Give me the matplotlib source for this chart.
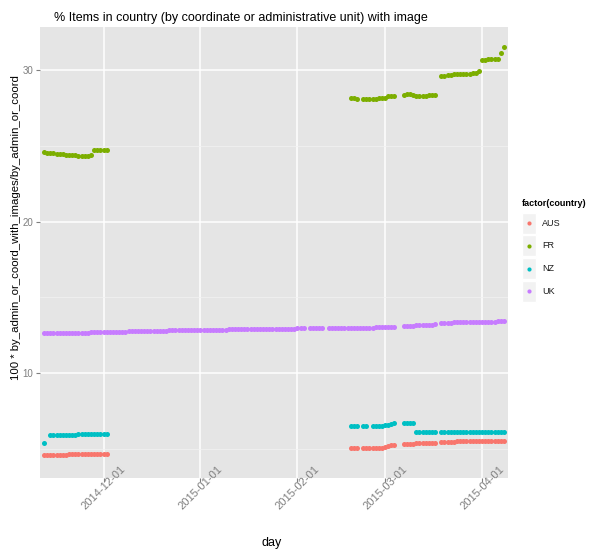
import numpy as np
import pandas as pd
import matplotlib
matplotlib.use("Agg")
import matplotlib.pyplot as plt
import matplotlib.dates as mdates
from matplotlib.patches import Rectangle

plt.rcParams['font.family'] = ['Liberation Sans', 'DejaVu Sans']

nan = np.nan

# --- data ------------------------------------------------------------------
countries = ["AUS", "FR", "NZ", "UK"]
colors = {"AUS": "#F8766D", "FR": "#7CAE00", "NZ": "#00BFC4", "UK": "#C77CFF"}

# block 1 : daily from 2014-11-12
block1_start = "2014-11-12"
aus_1 = [4.62, 4.62, 4.63, 4.63, 4.63, 4.64, 4.64, 4.64, 4.65, 4.65, 4.65,
         4.66, 4.66, 4.66, 4.67, 4.67, 4.68, 4.68, 4.69, 4.70, 4.71]
fr_1 = [24.60, 24.55, 24.50, 24.50, 24.48, 24.45, 24.45, 24.42, 24.40, 24.38, 24.38,
        24.35, 24.33, 24.32, 24.30, 24.42, 24.72, 24.73, 24.73, 24.74, 24.74]
nz_1 = [5.43, nan, 5.93, 5.94, 5.94, 5.95, 5.95, 5.95, 5.96, 5.96, 5.96,
        5.97, 5.97, 5.97, 5.98, 5.98, 5.98, 5.99, 5.99, 6.00, 6.00]

# block 2 : daily from 2015-02-18
block2_start = "2015-02-18"
aus_2 = [5.10, 5.10, 5.10, nan, 5.10, 5.10, 5.10, 5.10, 5.11, 5.11, 5.11, 5.12,
         5.22, 5.27, 5.28, nan, nan,
         5.36, 5.36, 5.37, 5.37, 5.38, 5.38, 5.39, 5.40, 5.40, 5.41, 5.42, nan,
         5.48, 5.49, 5.49, 5.50, 5.50, 5.51, 5.51, 5.52, 5.52, 5.52, 5.53,
         5.53, 5.53, 5.54, 5.54, 5.54, 5.55, 5.55, 5.55, 5.56, 5.56]
fr_2 = [28.13, 28.12, 28.10, nan, 28.08, 28.08, 28.10, 28.10, 28.10, 28.12, 28.13, 28.15,
        28.25, 28.30, 28.30, nan, nan,
        28.38, 28.40, 28.40, 28.38, 28.30, 28.28, 28.28, 28.30, 28.32, 28.33, 28.35, nan,
        29.60, 29.63, 29.65, 29.68, 29.70, 29.72, 29.72, 29.73, 29.75, 29.76, 29.77, 29.80,
        29.93, 30.65, 30.68, 30.70, 30.70, 30.72, 30.75, 31.10, 31.52]
nz_2 = [6.55, 6.55, 6.55, nan, 6.55, 6.56, nan, 6.55, 6.55, 6.55, 6.56, 6.58,
        6.62, 6.69, 6.70, nan, nan,
        6.72, 6.72, 6.72, 6.71, 6.12, 6.12, 6.12, 6.12, 6.12, 6.12, 6.12, nan,
        6.13, 6.13, 6.13, 6.13, 6.13, 6.14, 6.14, 6.14, 6.14, 6.14, 6.14,
        6.14, 6.14, 6.14, 6.14, 6.14, 6.14, 6.14, 6.14, 6.14, 6.14]

# UK : daily from 2014-11-12 through 2015-04-08
uk_start = "2014-11-12"
uk = [12.64, 12.65, 12.65, 12.66, 12.66, 12.66, 12.67,
      12.67, 12.67, 12.68, 12.68, 12.68, 12.69, 12.69,
      12.69, 12.70, 12.70, 12.70, 12.71, 12.71, 12.72,
      12.72, 12.73, 12.73, 12.74, 12.75, 12.75, 12.76,
      12.76, 12.77, 12.77, 12.78, 12.78, 12.79, 12.79,
      12.80, 12.80, 12.81, 12.82, 12.82, 12.83, 12.83,
      12.84, 12.84, 12.85, 12.85, 12.85, 12.86, 12.86,
      12.86, 12.87, 12.87, 12.87, 12.87, 12.88, 12.88,
      12.88, 12.88, 12.88, 12.89, 12.89, 12.89, 12.89,
      12.89, 12.90, 12.90, 12.90, 12.90, 12.91, 12.91,
      12.91, 12.92, 12.92, 12.92, 12.93, 12.93, 12.94,
      12.94, 12.95, 12.95, 12.95, 12.96, 12.96, 12.96,
      nan,
      12.96, 12.97, 12.97, 12.97, 12.98,
      nan,
      12.98, 12.98, 12.99, 12.99, 12.99, 13.00, 13.00, 13.00, 13.00, 13.01,
      13.01, 13.01, 13.02, 13.02, 13.02, 13.03, 13.03, 13.03, 13.04,
      13.05, 13.07, 13.08,
      nan, nan,
      13.12, 13.13, 13.14, 13.15, 13.16, 13.17, 13.18, 13.19, 13.20, 13.21, 13.23,
      nan,
      13.33, 13.34, 13.35, 13.35, 13.36, 13.36, 13.37, 13.37, 13.38, 13.38, 13.38,
      13.39, 13.39, 13.40, 13.40, 13.40, 13.41, 13.41, 13.42, 13.42, 13.43]

x_ticks = ["2014-12-01", "2015-01-01", "2015-02-01", "2015-03-01", "2015-04-01"]
y_ticks = [10, 20, 30]


def series(start, values):
    return pd.date_range(start, periods=len(values), freq="D"), np.array(values)


data = {
    "AUS": [series(block1_start, aus_1), series(block2_start, aus_2)],
    "FR": [series(block1_start, fr_1), series(block2_start, fr_2)],
    "NZ": [series(block1_start, nz_1), series(block2_start, nz_2)],
    "UK": [series(uk_start, uk)],
}

# --- figure -------------------------------------------------------------
W, H = 589, 554
fig = plt.figure(figsize=(W / 100, H / 100), dpi=100)
ax = fig.add_axes([40 / W, 1 - 478 / H, 468 / W, 451 / H])
ax.set_facecolor("#E5E5E5")
for s in ax.spines.values():
    s.set_visible(False)

for c in countries:
    for d, v in data[c]:
        ax.scatter(d, v, s=13, color=colors[c], linewidths=0, zorder=3)

x0 = mdates.date2num(pd.Timestamp("2014-11-12")) - 1.3
x1 = mdates.date2num(pd.Timestamp("2015-04-08")) + 1.3
ax.set_xlim(x0, x1)
ax.set_ylim(3.10, 32.83)

ax.set_xticks([mdates.date2num(pd.Timestamp(t)) for t in x_ticks])
ax.set_xticklabels(x_ticks)
ax.set_yticks(y_ticks)
ax.set_yticks([5, 15, 25], minor=True)
ax.grid(True, which="major", color="white", linewidth=1.1, zorder=0)
ax.grid(True, which="minor", axis="y", color="#F2F2F2", linewidth=0.5, zorder=0)
ax.set_axisbelow(True)

ax.tick_params(axis="both", which="major", color="#7F7F7F", length=3,
               width=0.8, labelcolor="#7F7F7F")
ax.tick_params(axis="y", which="major", pad=2, labelsize=7)
ax.tick_params(axis="x", which="major", pad=4, labelsize=8)
ax.tick_params(which="minor", length=0)
for lab in ax.get_xticklabels():
    lab.set_rotation(45)
    lab.set_ha("center")
    lab.set_va("center")

# titles
fig.text(241 / W, 1 - 18 / H,
         "% Items in country (by coordinate or administrative unit) with image",
         ha="center", va="center", fontsize=9, color="black")
fig.text(272 / W, 1 - 543 / H, "day", ha="center", va="center", fontsize=9)
fig.text(16 / W, 1 - 228 / H,
         "100 * by_admin_or_coord_with_images/by_admin_or_coord",
         ha="center", va="center", rotation=90, fontsize=8.2)

# legend
lax = fig.add_axes([0, 0, 1, 1], facecolor="none")
lax.set_xlim(0, W)
lax.set_ylim(H, 0)
lax.axis("off")
lax.text(522, 203, "factor(country)", fontsize=6.5, fontweight="bold", va="center", ha="left")
for i, c in enumerate(countries):
    cy = 223 + i * 22.8
    lax.add_patch(Rectangle((522, cy - 10.5), 14, 21, facecolor="#F2F2F2", edgecolor="white", lw=1))
    lax.scatter([529], [cy], s=9, color=colors[c], linewidths=0)
    lax.text(542, cy, c, fontsize=6.5, va="center", ha="left", color="#1A1A1A")

fig.savefig("out.png", dpi=100)
